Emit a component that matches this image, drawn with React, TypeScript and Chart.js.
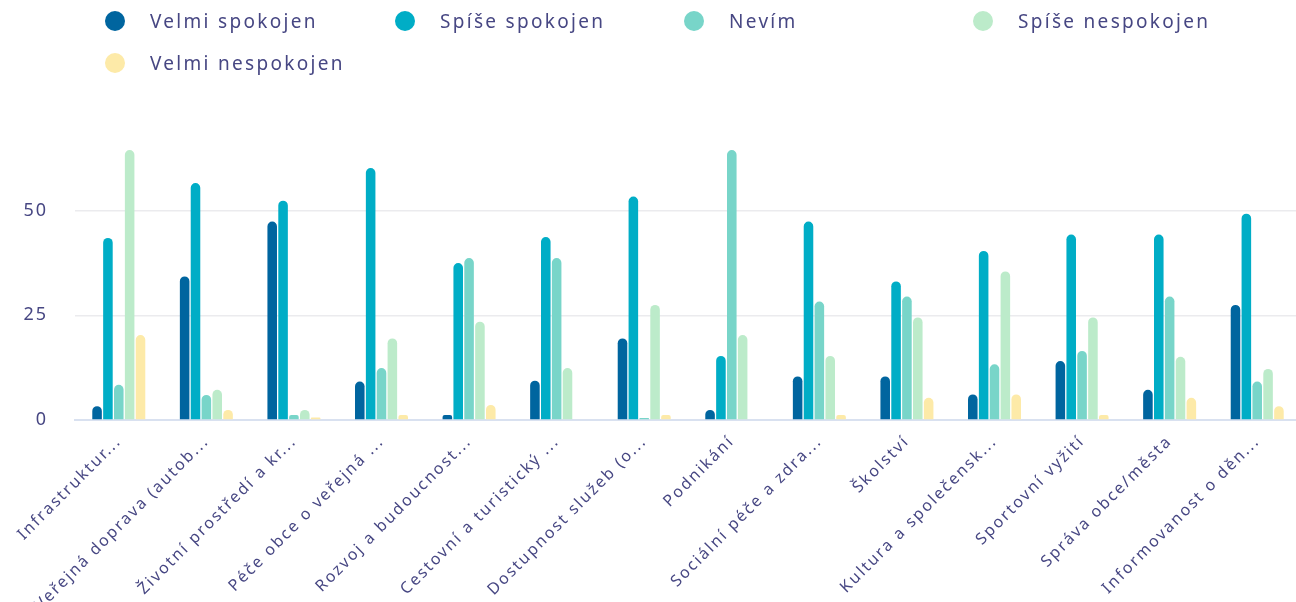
import React, { useEffect, useRef } from 'react';
import { Chart, registerables } from 'chart.js';

Chart.register(...registerables);

const categories = [
  'Infrastruktur...',
  'Veřejná doprava (autob...',
  'Životní prostředí a kr...',
  'Péče obce o veřejná ...',
  'Rozvoj a budoucnost...',
  'Cestovní a turistický ...',
  'Dostupnost služeb (o...',
  'Podnikání',
  'Sociální péče a zdra...',
  'Školství',
  'Kultura a společensk...',
  'Sportovní vyžití',
  'Správa obce/města',
  'Informovanost o děn...',
];

const seriesNames = ['Velmi spokojen', 'Spíše spokojen', 'Nevím', 'Spíše nespokojen', 'Velmi nespokojen'];
const seriesColors = ['#00659f', '#00adc6', '#78d5c9', '#bcebca', '#fdeaa8'];

const velmiSpokojen = [3.3, 34.3, 47.4, 9.2, 1.2, 9.4, 19.5, 2.4, 10.4, 10.4, 6.1, 14.1, 7.2, 27.5];
const spiseSpokojen = [43.5, 56.6, 52.4, 60.2, 37.5, 43.7, 53.4, 15.3, 47.4, 33.1, 40.4, 44.3, 44.3, 49.3];
const nevim = [8.4, 6, 1.2, 12.4, 38.7, 38.7, 0.5, 64.5, 28.3, 29.5, 13.3, 16.5, 29.5, 9.2];
const spiseNespokojen = [64.5, 7.2, 2.4, 19.5, 23.5, 12.4, 27.5, 20.3, 15.3, 24.5, 35.5, 24.5, 15.1, 12.2];
const velmiNespokojen = [20.3, 2.4, 0.6, 1.2, 3.6, 0, 1.2, 0, 1.2, 5.3, 6.1, 1.2, 5.3, 3.3];

const seriesValues = [velmiSpokojen, spiseSpokojen, nevim, spiseNespokojen, velmiNespokojen];
const yTickValues = [0, 25, 50];

const TEXT_COLOR = '#474783';
const FONT = '"Noto Sans", sans-serif';

const spacingPlugin = {
  id: 'letterSpacing',
  beforeDraw(chart: any) {
    chart.ctx.letterSpacing = '2px';
  },
  afterDraw(chart: any) {
    chart.ctx.letterSpacing = '0px';
  },
};

export default function App() {
  const canvasRef = useRef<HTMLCanvasElement | null>(null);

  useEffect(() => {
    document.body.style.margin = '0';
    document.body.style.overflow = 'hidden';
    const canvas = canvasRef.current;
    if (!canvas) return;
    const chart = new Chart(canvas, {
      type: 'bar',
      data: {
        labels: categories,
        datasets: seriesNames.map((name, i) => ({
          label: name,
          data: seriesValues[i],
          backgroundColor: seriesColors[i],
          borderRadius: 5,
          borderSkipped: 'start',
          categoryPercentage: 0.62,
          barPercentage: 0.88,
        })),
      },
      options: {
        animation: false,
        responsive: true,
        maintainAspectRatio: false,
        layout: { padding: { top: 127, left: 0, right: 0, bottom: 0 } },
        plugins: {
          legend: { display: false },
          tooltip: { enabled: false },
        },
        scales: {
          x: {
            grid: { display: false, drawTicks: false },
            border: { display: true, color: '#d9e1f0', width: 2 },
            ticks: {
              autoSkip: false,
              maxRotation: 45,
              minRotation: 45,
              padding: 12,
              color: TEXT_COLOR,
              font: { family: FONT, size: 16 },
            },
            afterFit(scale: any) {
              scale.height = 182;
            },
          },
          y: {
            min: 0,
            max: 70,
            border: { display: false },
            grid: {
              drawTicks: false,
              lineWidth: 1.5,
              color: (ctx: any) => (ctx.tick && ctx.tick.value === 0 ? 'rgba(0,0,0,0)' : '#ebebee'),
            },
            ticks: {
              stepSize: 25,
              includeBounds: false,
              padding: 27,
              color: TEXT_COLOR,
              font: { family: FONT, size: 18 },
              callback: (v: any) => (yTickValues.includes(Number(v)) ? String(v) : ''),
            },
            afterFit(scale: any) {
              scale.width = 75;
            },
          },
        },
      },
      plugins: [spacingPlugin],
    });
    return () => chart.destroy();
  }, []);

  const legendPos = [
    { x: 115, y: 21 },
    { x: 405, y: 21 },
    { x: 694, y: 21 },
    { x: 983, y: 21 },
    { x: 115, y: 62.5 },
  ];

  return (
    <div style={{ position: 'fixed', left: 0, top: 0, width: 1296, height: 602, overflow: 'hidden', background: '#fff' }}>
      <div style={{ position: 'absolute', left: 0, top: 0, width: 1301, height: 602 }}>
        <canvas ref={canvasRef} />
      </div>
      {seriesNames.map((name, i) => (
        <div
          key={name}
          style={{
            position: 'absolute',
            left: legendPos[i].x - 10,
            top: legendPos[i].y - 12,
            height: 24,
            display: 'flex',
            alignItems: 'center',
            whiteSpace: 'nowrap',
          }}
        >
          <span
            style={{
              display: 'inline-block',
              width: 20,
              height: 20,
              borderRadius: '50%',
              background: seriesColors[i],
              marginRight: 25,
            }}
          />
          <span
            style={{
              fontFamily: FONT,
              fontSize: 19,
              letterSpacing: '2.3px',
              color: TEXT_COLOR,
              lineHeight: '24px',
            }}
          >
            {name}
          </span>
        </div>
      ))}
    </div>
  );
}
